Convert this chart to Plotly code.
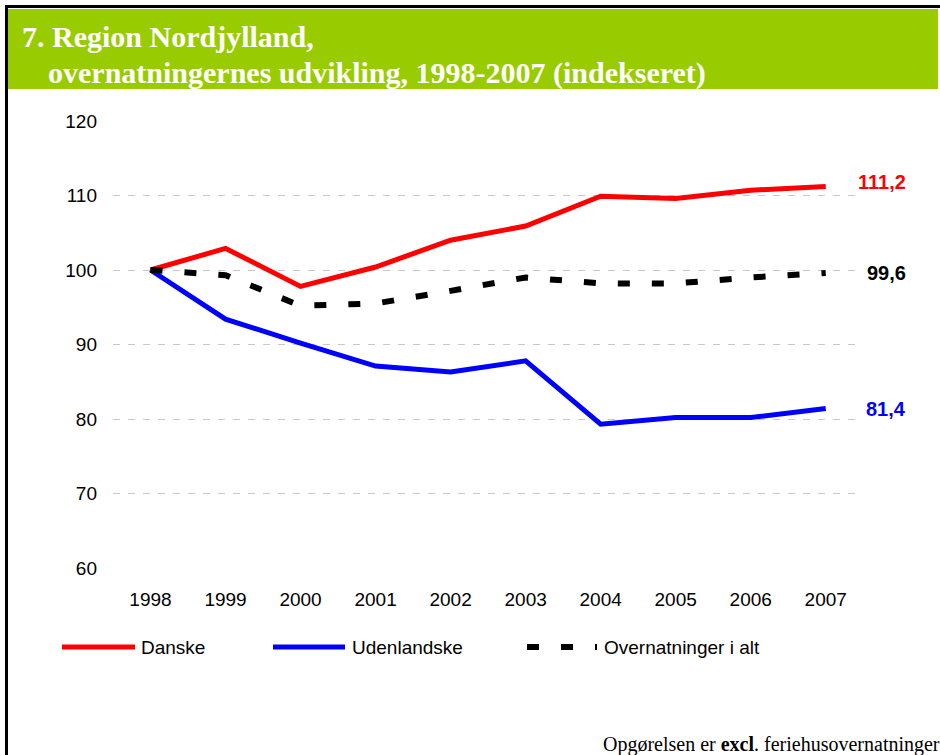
import plotly.graph_objects as go

years = [1998, 1999, 2000, 2001, 2002, 2003, 2004, 2005, 2006, 2007]
danske = [100.0, 102.9, 97.8, 100.4, 104.0, 105.9, 109.9, 109.6, 110.7, 111.2]
udenlandske = [100.0, 93.4, 90.2, 87.1, 86.3, 87.8, 79.3, 80.2, 80.2, 81.4]
i_alt = [100.0, 99.3, 95.2, 95.5, 97.2, 99.0, 98.2, 98.2, 99.0, 99.6]
series_names = ["Danske", "Udenlandske", "Overnatninger i alt"]
y_ticks = [60, 70, 80, 90, 100, 110, 120]

title1 = "7. Region Nordjylland,"
title2 = "overnatningernes udvikling, 1998-2007 (indekseret)"
footer = "Opgørelsen er <b>excl</b>. feriehusovernatninger"

W, H = 940, 755
ML, MR, MT, MB = 113, 82, 121, 187
PW = W - ML - MR
PH = H - MT - MB


def px(x):
    return (x - ML) / PW


def py(y):
    return (H - MB - y) / PH


SANS = "Arial, Liberation Sans, sans-serif"
SERIF = "Times New Roman, Liberation Serif, serif"

colors = ["#ff0000", "#0000ff", "#000000"]
widths = [5, 5, 6]
dashes = ["solid", "solid", "12px,22px"]
data = [danske, udenlandske, i_alt]

fig = go.Figure()
for name, vals, c, w, d in zip(series_names, data, colors, widths, dashes):
    fig.add_trace(go.Scatter(x=years, y=vals, mode="lines", name=name,
                             line=dict(color=c, width=w, dash=d),
                             showlegend=False, hoverinfo="skip"))

annotations = []
# end labels
yshifts = [5, 0, 0]
for vals, c, ys in zip(data, colors, yshifts):
    annotations.append(dict(x=years[-1], y=vals[-1], xref="x", yref="y",
                            text="<b>" + f"{vals[-1]:.1f}".replace(".", ",") + "</b>",
                            showarrow=False, xanchor="right", yanchor="middle",
                            xshift=82, yshift=ys,
                            font=dict(family=SANS, size=20, color=c)))

# title
annotations.append(dict(x=px(20), y=py(36), xref="paper", yref="paper", text="<b>" + title1 + "</b>",
                        showarrow=False, xanchor="left", yanchor="middle",
                        font=dict(family=SERIF, size=30, color="white")))
annotations.append(dict(x=px(46), y=py(73), xref="paper", yref="paper", text="<b>" + title2 + "</b>",
                        showarrow=False, xanchor="left", yanchor="middle",
                        font=dict(family=SERIF, size=30, color="white")))
# footer
annotations.append(dict(x=px(601), y=py(744), xref="paper", yref="paper", text=footer,
                        showarrow=False, xanchor="left", yanchor="middle",
                        font=dict(family=SERIF, size=20, color="black")))

shapes = [
    dict(type="rect", xref="paper", yref="paper", x0=px(8), x1=px(938), y0=py(9), y1=py(89),
         fillcolor="#99cc00", line=dict(width=0), layer="below"),
    dict(type="rect", xref="paper", yref="paper", x0=px(5), x1=px(940), y0=py(5), y1=py(8),
         fillcolor="black", line=dict(width=0)),
    dict(type="rect", xref="paper", yref="paper", x0=px(5), x1=px(8), y0=py(5), y1=py(755),
         fillcolor="black", line=dict(width=0)),
]

# legend (manual)
leg_y = 647
leg_items = [(62, 135, 139), (273, 345, 350), (527, 597, 602)]
for (x0, x1, tx), name, c, w, d in zip(leg_items, series_names, colors, widths, dashes):
    shapes.append(dict(type="line", xref="paper", yref="paper", x0=px(x0), x1=px(x1),
                       y0=py(leg_y), y1=py(leg_y), line=dict(color=c, width=w, dash=d)))
    annotations.append(dict(x=px(tx), y=py(leg_y), xref="paper", yref="paper", text=name,
                            showarrow=False, xanchor="left", yanchor="middle",
                            font=dict(family=SANS, size=19, color="black")))

fig.update_layout(
    width=W, height=H,
    margin=dict(l=ML, r=MR, t=MT, b=MB, autoexpand=False),
    paper_bgcolor="white", plot_bgcolor="white",
    showlegend=False,
    annotations=annotations,
    shapes=shapes,
    xaxis=dict(range=[1997.5, 2007.43], tickvals=years, ticktext=[str(y) for y in years],
               showgrid=False, zeroline=False, showline=False, ticks="",
               ticklabelstandoff=18,
               tickfont=dict(family=SANS, size=19, color="black")),
    yaxis=dict(range=[60, 120], tickvals=y_ticks, showgrid=True, gridcolor="#c8c8c8",
               griddash="7px,8px", gridwidth=1, zeroline=False, showline=False, ticks="",
               ticklabelstandoff=15,
               tickfont=dict(family=SANS, size=19, color="black")),
)

fig.write_html("out.html", config={"displayModeBar": False},
               post_script="document.body.style.margin='0';document.body.style.overflow='hidden';")
